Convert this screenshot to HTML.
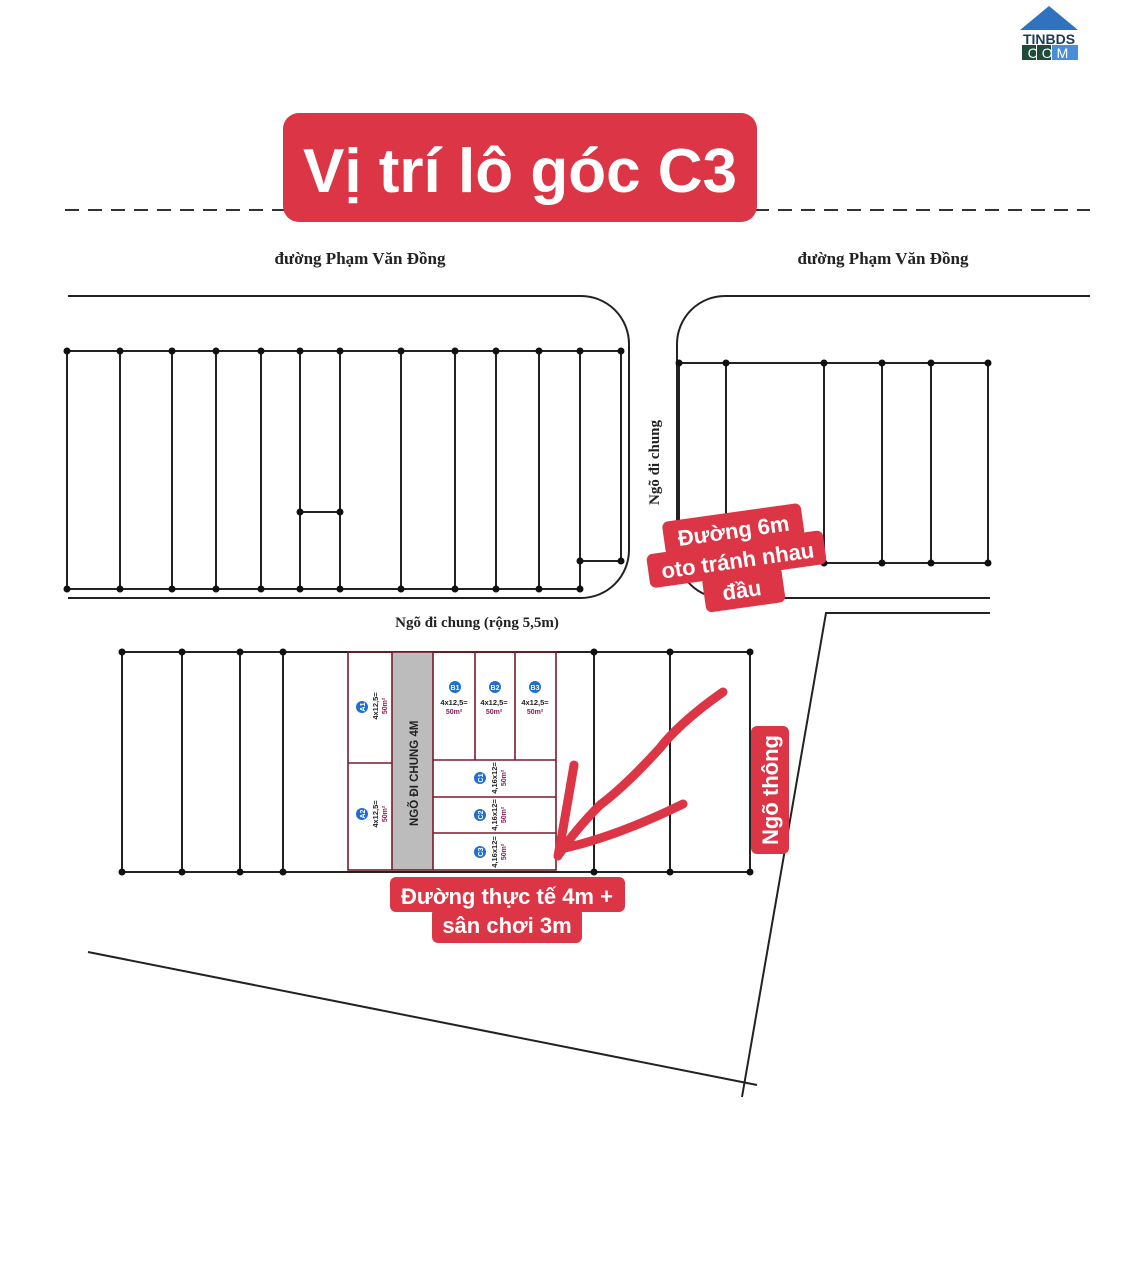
<!DOCTYPE html>
<html><head><meta charset="utf-8"><style>
html,body{margin:0;padding:0;background:#fff;}
svg{display:block;}
.s{font-family:"Liberation Serif",serif;font-weight:bold;fill:#222;}
.w{font-family:"Liberation Sans",sans-serif;font-weight:bold;fill:#fff;}
.t{font-family:"Liberation Sans",sans-serif;font-weight:bold;}
</style></head><body>
<svg width="1125" height="1286" viewBox="0 0 1125 1286" xmlns="http://www.w3.org/2000/svg">
<polygon points="1020,30 1049,6 1078,30" fill="#2f73c0"/>
<text x="1049" y="44" text-anchor="middle" class="t" font-size="14" fill="#1d3a5a">TINBDS</text>
<rect x="1022" y="45" width="14" height="15" fill="#1f4b3a"/>
<rect x="1037" y="45" width="14" height="15" fill="#1f4b3a"/>
<rect x="1052" y="45" width="26" height="15" fill="#4a8ed8"/>
<text x="1050" y="58" text-anchor="middle" font-family="Liberation Sans" font-size="14" fill="#fff" letter-spacing="4">COM</text>

<line x1="65" y1="210" x2="1090" y2="210" stroke="#333" stroke-width="2" stroke-dasharray="14,9"/>
<rect x="283" y="113" width="474" height="109" rx="16" fill="#dc3545"/>
<text x="520" y="192" text-anchor="middle" class="w" font-size="62">Vị trí lô góc C3</text>

<text x="360" y="264" text-anchor="middle" class="s" font-size="17">đường Phạm Văn Đồng</text>
<text x="883" y="264" text-anchor="middle" class="s" font-size="17">đường Phạm Văn Đồng</text>

<g fill="none" stroke="#222" stroke-width="2">
<path d="M68,296 H581 A48,48 0 0 1 629,344 V550 A48,48 0 0 1 581,598 H68"/>
<path d="M1090,296 H725 A48,48 0 0 0 677,344 V552 A46,46 0 0 0 723,598 H990"/>
<path d="M990,613 H826 L742,1097"/>
<line x1="88" y1="952" x2="757" y2="1085"/>
<line x1="67" y1="351" x2="621" y2="351"/>
<line x1="67" y1="589" x2="580" y2="589"/>
<path d="M67,351V589M120,351V589M172,351V589M216,351V589M261,351V589M300,351V589M340,351V589M401,351V589M455,351V589M496,351V589M539,351V589M580,351V589M621,351V561M300,512H340M580,561H621"/>
<path d="M679,363H988M679,563H988M679,363V563M726,363V563M824,363V563M882,363V563M931,363V563M988,363V563"/>
<path d="M122,652H750M122,872H750M122,652V872M182,652V872M240,652V872M283,652V872M594,652V872M670,652V872M750,652V872"/>
</g>
<g fill="#111">
<circle cx="67" cy="351" r="3.5"/><circle cx="120" cy="351" r="3.5"/><circle cx="172" cy="351" r="3.5"/><circle cx="216" cy="351" r="3.5"/><circle cx="261" cy="351" r="3.5"/><circle cx="300" cy="351" r="3.5"/><circle cx="340" cy="351" r="3.5"/><circle cx="401" cy="351" r="3.5"/><circle cx="455" cy="351" r="3.5"/><circle cx="496" cy="351" r="3.5"/><circle cx="539" cy="351" r="3.5"/><circle cx="580" cy="351" r="3.5"/><circle cx="621" cy="351" r="3.5"/>
<circle cx="67" cy="589" r="3.5"/><circle cx="120" cy="589" r="3.5"/><circle cx="172" cy="589" r="3.5"/><circle cx="216" cy="589" r="3.5"/><circle cx="261" cy="589" r="3.5"/><circle cx="300" cy="589" r="3.5"/><circle cx="340" cy="589" r="3.5"/><circle cx="401" cy="589" r="3.5"/><circle cx="455" cy="589" r="3.5"/><circle cx="496" cy="589" r="3.5"/><circle cx="539" cy="589" r="3.5"/><circle cx="580" cy="589" r="3.5"/>
<circle cx="300" cy="512" r="3.5"/><circle cx="340" cy="512" r="3.5"/><circle cx="580" cy="561" r="3.5"/><circle cx="621" cy="561" r="3.5"/>
<circle cx="679" cy="363" r="3.5"/><circle cx="726" cy="363" r="3.5"/><circle cx="824" cy="363" r="3.5"/><circle cx="882" cy="363" r="3.5"/><circle cx="931" cy="363" r="3.5"/><circle cx="988" cy="363" r="3.5"/>
<circle cx="824" cy="563" r="3.5"/><circle cx="882" cy="563" r="3.5"/><circle cx="931" cy="563" r="3.5"/><circle cx="988" cy="563" r="3.5"/>
<circle cx="122" cy="652" r="3.5"/><circle cx="182" cy="652" r="3.5"/><circle cx="240" cy="652" r="3.5"/><circle cx="283" cy="652" r="3.5"/><circle cx="594" cy="652" r="3.5"/><circle cx="670" cy="652" r="3.5"/><circle cx="750" cy="652" r="3.5"/>
<circle cx="122" cy="872" r="3.5"/><circle cx="182" cy="872" r="3.5"/><circle cx="240" cy="872" r="3.5"/><circle cx="283" cy="872" r="3.5"/><circle cx="594" cy="872" r="3.5"/><circle cx="670" cy="872" r="3.5"/><circle cx="750" cy="872" r="3.5"/>
</g>

<text class="s" font-size="15" transform="translate(659,505) rotate(-90)">Ngõ đi chung</text>
<text x="477" y="627" text-anchor="middle" class="s" font-size="15">Ngõ đi chung (rộng 5,5m)</text>

<rect x="392" y="652" width="41" height="218" fill="#bdbcbc"/>
<g fill="none" stroke="#7a1a2a" stroke-width="1.6">
<rect x="348" y="652" width="208" height="218"/>
<path d="M348,763H392M392,652V870M433,652V870M475,652V760M515,652V760M433,760H556M433,797H556M433,833H556"/>
</g>
<text class="t" font-size="11.5" fill="#222" transform="translate(418,826) rotate(-90)">NGÕ ĐI CHUNG 4M</text>
<g font-family="Liberation Sans" font-weight="bold">
<circle cx="455" cy="687" r="6" fill="#1f6fd1"/><text x="455" y="690" text-anchor="middle" font-size="7" fill="#fff">B1</text>
<circle cx="495" cy="687" r="6" fill="#1f6fd1"/><text x="495" y="690" text-anchor="middle" font-size="7" fill="#fff">B2</text>
<circle cx="535" cy="687" r="6" fill="#1f6fd1"/><text x="535" y="690" text-anchor="middle" font-size="7" fill="#fff">B3</text>
<text x="454" y="705" text-anchor="middle" font-size="7.5" fill="#222">4x12,5=</text><text x="454" y="714" text-anchor="middle" font-size="7" fill="#8b1a5a">50m²</text>
<text x="494" y="705" text-anchor="middle" font-size="7.5" fill="#222">4x12,5=</text><text x="494" y="714" text-anchor="middle" font-size="7" fill="#8b1a5a">50m²</text>
<text x="535" y="705" text-anchor="middle" font-size="7.5" fill="#222">4x12,5=</text><text x="535" y="714" text-anchor="middle" font-size="7" fill="#8b1a5a">50m²</text>
<circle cx="362" cy="707" r="6" fill="#1f6fd1"/><text font-size="7" fill="#fff" transform="translate(365,707) rotate(-90)" text-anchor="middle">A1</text>
<text font-size="7.5" fill="#222" transform="translate(378,706) rotate(-90)" text-anchor="middle">4x12,5=</text><text font-size="7" fill="#8b1a5a" transform="translate(387,706) rotate(-90)" text-anchor="middle">50m²</text>
<circle cx="362" cy="814" r="6" fill="#1f6fd1"/><text font-size="7" fill="#fff" transform="translate(365,814) rotate(-90)" text-anchor="middle">A2</text>
<text font-size="7.5" fill="#222" transform="translate(378,814) rotate(-90)" text-anchor="middle">4x12,5=</text><text font-size="7" fill="#8b1a5a" transform="translate(387,814) rotate(-90)" text-anchor="middle">50m²</text>
<circle cx="480" cy="778" r="6" fill="#1f6fd1"/><text font-size="7" fill="#fff" transform="translate(483,778) rotate(-90)" text-anchor="middle">C1</text>
<text font-size="7.5" fill="#222" transform="translate(497,778) rotate(-90)" text-anchor="middle">4,16x12=</text><text font-size="7" fill="#8b1a5a" transform="translate(506,778) rotate(-90)" text-anchor="middle">50m²</text>
<circle cx="480" cy="815" r="6" fill="#1f6fd1"/><text font-size="7" fill="#fff" transform="translate(483,815) rotate(-90)" text-anchor="middle">C2</text>
<text font-size="7.5" fill="#222" transform="translate(497,815) rotate(-90)" text-anchor="middle">4,16x12=</text><text font-size="7" fill="#8b1a5a" transform="translate(506,815) rotate(-90)" text-anchor="middle">50m²</text>
<circle cx="480" cy="852" r="6" fill="#1f6fd1"/><text font-size="7" fill="#fff" transform="translate(483,852) rotate(-90)" text-anchor="middle">C3</text>
<text font-size="7.5" fill="#222" transform="translate(497,852) rotate(-90)" text-anchor="middle">4,16x12=</text><text font-size="7" fill="#8b1a5a" transform="translate(506,852) rotate(-90)" text-anchor="middle">50m²</text>
</g>

<g fill="none" stroke="#dc3545" stroke-width="9" stroke-linecap="round" stroke-linejoin="round">
<path d="M723,692 C690,715 670,735 660,748 C640,770 620,790 600,805 C585,820 572,835 560,853"/>
<path d="M574,765 C568,800 563,830 558,856"/>
<path d="M683,804 C640,825 600,840 565,848"/>
</g>

<g transform="rotate(-8 738 563)">
<rect x="668" y="512" width="140" height="34" rx="6" fill="#dc3545"/>
<rect x="648" y="542" width="178" height="34" rx="6" fill="#dc3545"/>
<rect x="700" y="572" width="80" height="36" rx="6" fill="#dc3545"/>
<text x="738" y="538" text-anchor="middle" class="w" font-size="22">Đường 6m</text>
<text x="738" y="568" text-anchor="middle" class="w" font-size="22">oto tránh nhau</text>
<text x="738" y="598" text-anchor="middle" class="w" font-size="22">đầu</text>
</g>
<rect x="390" y="877" width="235" height="35" rx="6" fill="#dc3545"/>
<rect x="432" y="908" width="150" height="35" rx="6" fill="#dc3545"/>
<text x="507" y="904" text-anchor="middle" class="w" font-size="22">Đường thực tế 4m +</text>
<text x="507" y="933" text-anchor="middle" class="w" font-size="22">sân chơi 3m</text>
<rect x="751" y="726" width="38" height="128" rx="6" fill="#dc3545"/>
<text class="w" font-size="22" transform="translate(778,790) rotate(-90)" text-anchor="middle">Ngõ thông</text>
</svg>
</body></html>
